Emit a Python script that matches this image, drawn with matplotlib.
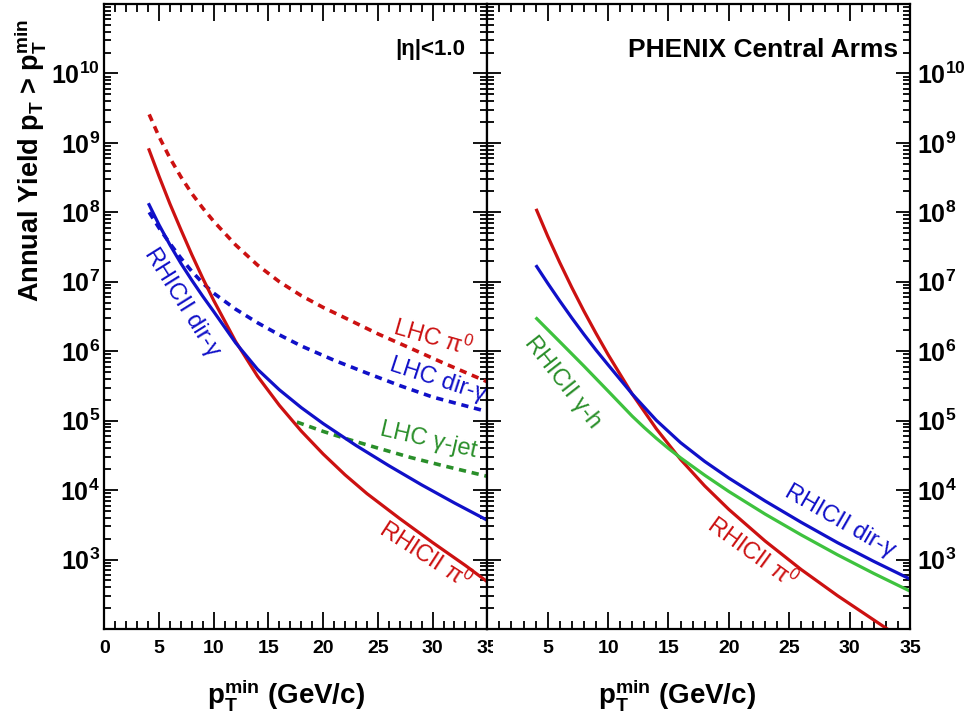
import matplotlib
matplotlib.use('Agg')
import matplotlib.pyplot as plt
from matplotlib.ticker import MultipleLocator, FixedLocator, LogLocator, NullFormatter
from matplotlib.transforms import Bbox, TransformedBbox

plt.rcParams['font.family'] = ['Liberation Sans', 'DejaVu Sans']
plt.rcParams['mathtext.fontset'] = 'custom'
plt.rcParams['mathtext.rm'] = 'Liberation Sans'
plt.rcParams['mathtext.it'] = 'Liberation Sans:italic'
plt.rcParams['mathtext.bf'] = 'Liberation Sans:bold'

RED = '#cc1111'
BLUE = '#1010c8'
GREEN_D = '#2a8f2a'
GREEN_L = '#3ec23e'

# --- left panel: |eta| < 1.0 ---
lhc_pi0_x = [4.1, 5, 6, 7, 8, 9, 10, 12, 14, 16, 18, 20, 22, 25, 28, 31, 35]
lhc_pi0_y = [2.57e9, 1.23e9, 6.03e8, 3.24e8, 1.86e8, 1.15e8, 7.41e7, 3.39e7, 1.74e7,
             1.0e7, 6.31e6, 4.27e6, 3.02e6, 1.78e6, 1.10e6, 6.76e5, 3.63e5]

rhic_pi0_x = [4.09, 5, 6, 7, 8, 9, 10, 12, 14, 16, 18, 20, 22, 24, 27, 30, 33, 35]
rhic_pi0_y = [7.94e8, 3.31e8, 1.32e8, 5.62e7, 2.45e7, 1.12e7, 5.37e6, 1.38e6, 4.37e5,
              1.66e5, 7.08e4, 3.31e4, 1.66e4, 8.91e3, 3.89e3, 1.76e3, 8.22e2, 4.79e2]

rhic_dirg_x = [4.09, 5, 6, 7, 8, 9, 10, 12, 14, 16, 18, 20, 23, 26, 29, 32, 35]
rhic_dirg_y = [1.29e8, 6.61e7, 3.39e7, 1.84e7, 1.05e7, 6.17e6, 3.72e6, 1.32e6, 5.50e5,
               2.78e5, 1.54e5, 9.08e4, 4.40e4, 2.25e4, 1.19e4, 6.53e3, 3.68e3]

lhc_dirg_x = [4.1, 5, 6, 7, 8, 9, 10, 12, 14, 16, 18, 21, 24, 27, 30, 35]
lhc_dirg_y = [1.0e8, 5.96e7, 3.55e7, 2.19e7, 1.41e7, 9.55e6, 6.84e6, 4.03e6, 2.57e6,
              1.72e6, 1.19e6, 7.41e5, 4.84e5, 3.20e5, 2.19e5, 1.35e5]

lhc_gjet_x = [17.6, 20, 22, 25, 28, 31, 35]
lhc_gjet_y = [9.55e4, 7.0e4, 5.56e4, 4.03e4, 2.95e4, 2.24e4, 1.58e4]

# --- right panel: PHENIX central arms ---
phx_pi0_x = [4.09, 5, 6, 7, 8, 9, 10, 12, 14, 16, 18, 20, 23, 26, 29, 32, 33.2]
phx_pi0_y = [1.07e8, 4.54e7, 1.89e7, 8.26e6, 3.78e6, 1.81e6, 8.95e5, 2.41e5, 7.62e4,
             2.77e4, 1.15e4, 5.27e3, 1.85e3, 7.16e2, 3.02e2, 1.35e2, 9.8e1]

phx_dirg_x = [4.09, 5, 6, 7, 8, 9, 10, 12, 14, 16, 18, 20, 23, 26, 29, 32, 35]
phx_dirg_y = [1.66e7, 9.53e6, 5.30e6, 3.01e6, 1.75e6, 1.04e6, 6.37e5, 2.42e5, 1.01e5,
              4.83e4, 2.59e4, 1.49e4, 6.98e3, 3.43e3, 1.75e3, 9.42e2, 5.24e2]

phx_gh_x = [4.09, 6, 8, 10, 12, 13, 14, 15, 16, 18, 20, 23, 26, 29, 32, 35]
phx_gh_y = [2.95e6, 1.37e6, 6.11e5, 2.67e5, 1.16e5, 7.94e4, 5.56e4, 3.98e4, 2.92e4,
            1.64e4, 9.55e3, 4.52e3, 2.26e3, 1.17e3, 6.31e2, 3.51e2]

xticks = [0, 5, 10, 15, 20, 25, 30, 35]
ydecades = [1e3, 1e4, 1e5, 1e6, 1e7, 1e8, 1e9, 1e10]
ytick_labels = [r'$\mathbf{10^{%d}}$' % k for k in range(3, 11)]

fig = plt.figure(figsize=(9.74, 7.23), dpi=100)
axL = fig.add_axes([0.1071, 0.1300, 0.3932, 0.8645])
axR = fig.add_axes([0.5003, 0.1300, 0.4340, 0.8645])

dash = (0, (2.0, 1.6))
axL.plot(lhc_pi0_x, lhc_pi0_y, color=RED, lw=2.6, ls=dash)
axL.plot(lhc_dirg_x, lhc_dirg_y, color=BLUE, lw=2.6, ls=dash)
axL.plot(lhc_gjet_x, lhc_gjet_y, color=GREEN_D, lw=2.6, ls=dash)
axL.plot(rhic_pi0_x, rhic_pi0_y, color=RED, lw=2.3)
axL.plot(rhic_dirg_x, rhic_dirg_y, color=BLUE, lw=2.3)

axR.plot(phx_pi0_x, phx_pi0_y, color=RED, lw=2.3)
axR.plot(phx_dirg_x, phx_dirg_y, color=BLUE, lw=2.3)
axR.plot(phx_gh_x, phx_gh_y, color=GREEN_L, lw=2.3)

for ax in (axL, axR):
    ax.set_yscale('log')
    ax.set_ylim(1e2, 1e11)
    ax.set_xlim(0, 35)
    ax.xaxis.set_major_locator(FixedLocator(xticks))
    ax.xaxis.set_minor_locator(MultipleLocator(1))
    ax.yaxis.set_major_locator(FixedLocator(ydecades))
    ax.yaxis.set_minor_locator(LogLocator(base=10, subs=range(2, 10), numticks=30))
    ax.yaxis.set_minor_formatter(NullFormatter())
    ax.tick_params(which='both', direction='in', top=True, bottom=True,
                   left=True, right=True, width=1.3, colors='black')
    ax.tick_params(axis='x', which='major', length=12, pad=8, labelsize=14)
    ax.tick_params(axis='x', which='minor', length=6)
    ax.tick_params(axis='y', which='major', length=10, labelsize=18)
    ax.tick_params(axis='y', which='minor', length=5)
    for s in ax.spines.values():
        s.set_linewidth(1.6)

axL.set_yticklabels(ytick_labels)
axL.tick_params(axis='y', pad=3)
axR.tick_params(axis='y', labelleft=False, labelright=True, pad=5)
axR.set_yticklabels(ytick_labels)

xl = axL.set_xticklabels([str(v) for v in xticks], fontweight='bold')
axR.set_xticklabels([''] + [str(v) for v in xticks[1:]], fontweight='bold')
# the left panel's last label is half hidden by the right panel
xl[-1].set_clip_box(TransformedBbox(Bbox([[0, 0], [0.506, 1]]), fig.transFigure))
xl[-1].set_clip_on(True)

# curve labels
lab = dict(fontsize=17, ha='center', va='center', rotation_mode='anchor')
axL.text(7.1, 5.1e6, 'RHICII dir-γ', color=BLUE, rotation=-58, **lab)
axL.text(30.0, 1.55e6, r'LHC π$^{0}$', color=RED, rotation=-16, **lab)
axL.text(30.5, 3.8e5, 'LHC dir-γ', color=BLUE, rotation=-18, **lab)
axL.text(29.6, 5.2e4, 'LHC γ-jet', color=GREEN_D, rotation=-13, **lab)
axL.text(29.3, 1.15e3, r'RHICII π$^{0}$', color=RED, rotation=-33, **lab)
axR.text(6.2, 3.6e5, 'RHICII γ-h', color=GREEN_D, rotation=-52, **lab)
axR.text(29.2, 3.5e3, 'RHICII dir-γ', color=BLUE, rotation=-30, **lab)
axR.text(21.9, 1.25e3, r'RHICII π$^{0}$', color=RED, rotation=-36, **lab)

axL.text(33.0, 2.2e10, '|η|<1.0', fontsize=16, fontweight='bold', ha='right', va='center')
axR.text(34.05, 2.2e10, 'PHENIX Central Arms', fontsize=19, fontweight='bold', ha='right', va='center')

fig.text(0.031, 0.778, r'Annual Yield $\mathbf{p_{T}}$ > $\mathbf{p_{T}^{min}}$',
         rotation=90, ha='center', va='center', fontsize=19.5, fontweight='bold')
xlabel = r'$\mathbf{p_{T}^{min}}$ (GeV/c)'
fig.text(0.294, 0.039, xlabel, ha='center', va='center', fontsize=20, fontweight='bold')
fig.text(0.695, 0.039, xlabel, ha='center', va='center', fontsize=20, fontweight='bold')

fig.savefig('out.png', dpi=100)
